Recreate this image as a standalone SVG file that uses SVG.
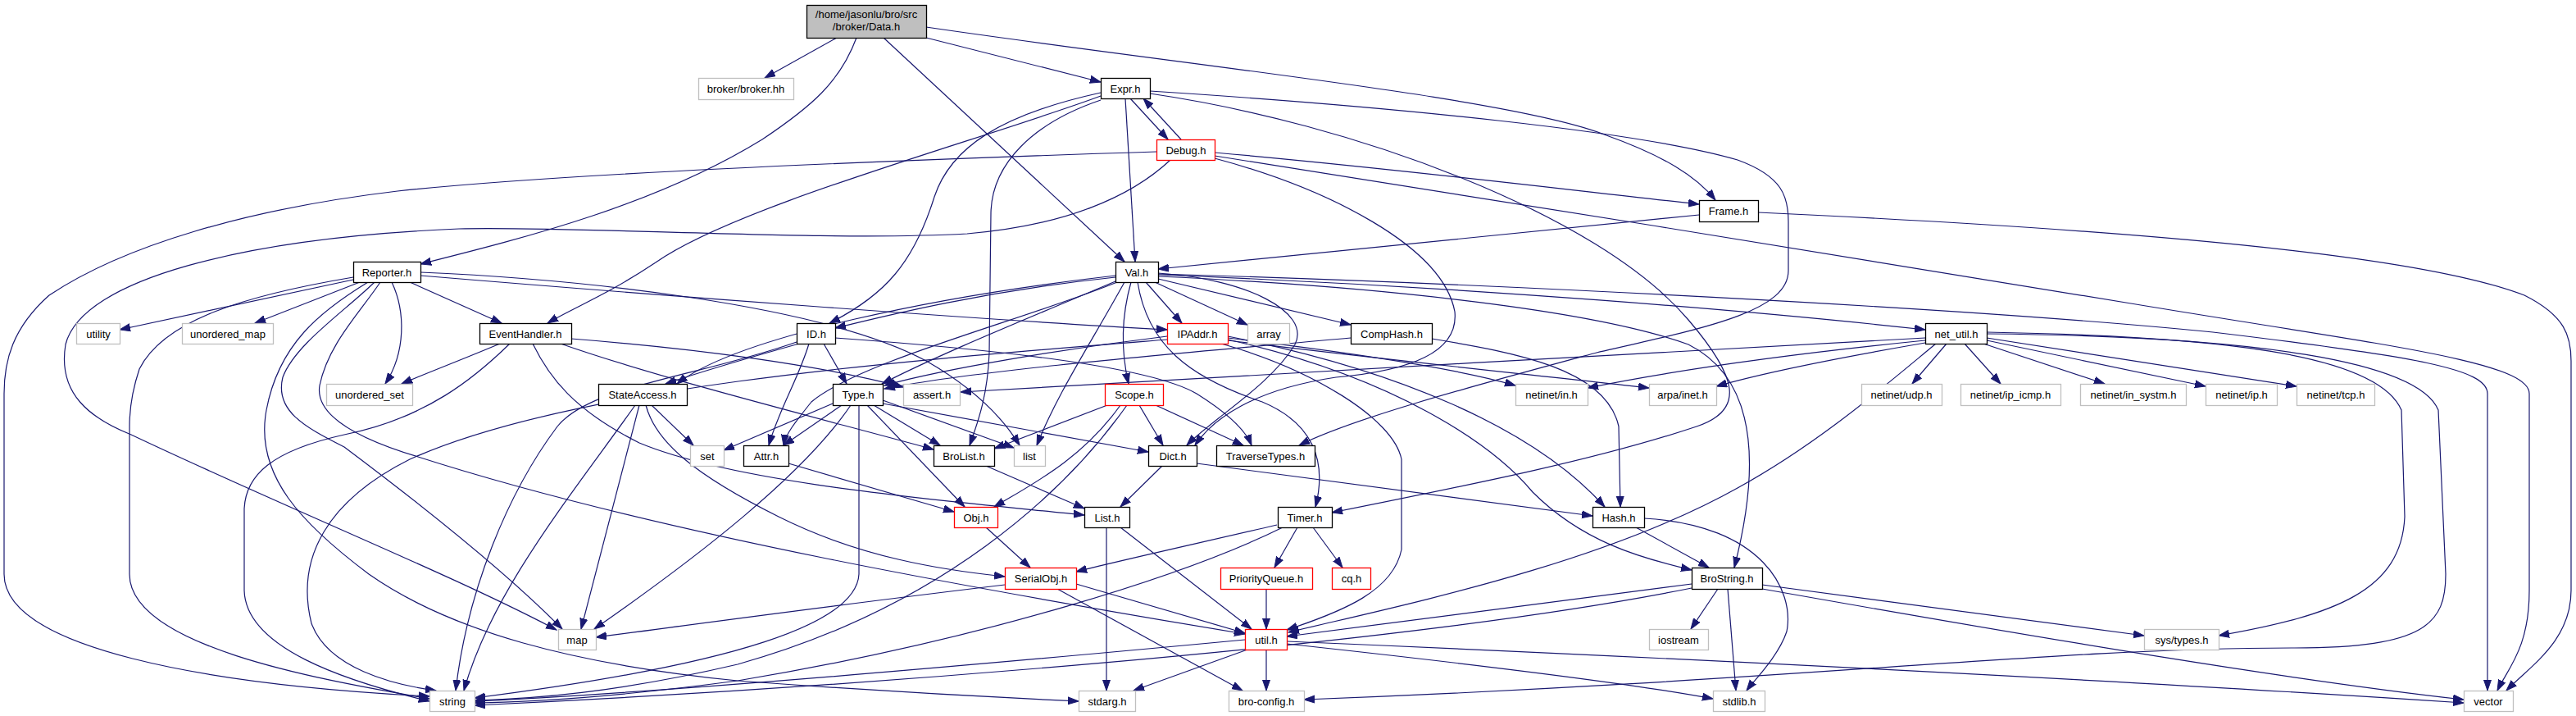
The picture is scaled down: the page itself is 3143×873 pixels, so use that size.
<svg xmlns="http://www.w3.org/2000/svg" width="3143" height="873" viewBox="0 0 3143 873">
<defs>
<marker id="ah" markerWidth="14" markerHeight="11" refX="13" refY="5" orient="auto" markerUnits="userSpaceOnUse"><path d="M0,0.5 L13,5 L0,9.5 z" fill="#191970" stroke="#191970" stroke-width="1"/></marker>
</defs>
<style>
.e{fill:none;stroke:#191970;stroke-width:1.2;marker-end:url(#ah)}
.n rect{fill:#fff;stroke:#000;stroke-width:1.3}
.g rect{stroke:#bfbfbf}
.r rect{stroke:#ff0000}
.root rect{fill:#bfbfbf;stroke:#000}
text{font-family:"Liberation Sans",Arial,Helvetica,sans-serif;font-size:13px;text-anchor:middle;fill:#000}
</style>
<rect x="0" y="0" width="3143" height="873" fill="#fff"/>
<g id="connectors">
<path class="e" d="M1021,46 L933,95"/>
<path class="e" d="M1045,46 C1025,100 990,130 930,170 C800,250 640,290 513,322"/>
<path class="e" d="M1078,46 L1372,319"/>
<path class="e" d="M1130,46 L1343,100"/>
<path class="e" d="M1130,33 C1450,80 1850,120 1960,165 C2030,190 2070,215 2093,244"/>
<path class="e" d="M1379,120 L1425,170"/>
<path class="e" d="M1441,170 L1395,120"/>
<path class="e" d="M1373,120 L1385,319"/>
<path class="e" d="M1343,113 C1220,140 1160,180 1140,240 C1115,320 1080,360 1012,394"/>
<path class="e" d="M1343,117 C1200,170 900,250 800,320 C740,360 700,375 668,394"/>
<path class="e" d="M1343,122 C1260,150 1210,200 1209,260 L1207,430 C1205,480 1195,510 1183,543"/>
<path class="e" d="M1403,111 C1700,130 2000,160 2120,195 C2175,215 2182,240 2182,270 L2182,330 C2182,380 2080,400 1948,430 C1800,470 1650,510 1585,543"/>
<path class="e" d="M1403,114 C1650,150 1950,260 2060,390 C2120,460 2130,500 2070,520 C1950,560 1800,590 1625,625"/>
<path class="e" d="M1411,185 C1100,195 700,210 485,233 C300,255 150,300 60,360 C15,400 5,440 5,480 L5,700 C5,790 250,835 524,849"/>
<path class="e" d="M1428,195 C1380,240 1300,275 1180,285 C1000,295 700,275 560,279 C300,290 100,340 80,420 C70,480 110,510 160,530 C350,620 550,700 679,768"/>
<path class="e" d="M1482,186 C1700,205 1900,230 2073,249"/>
<path class="e" d="M1482,190 C1800,240 2300,320 2600,370 C2900,420 3086,440 3086,480 L3086,720 C3086,790 3060,815 3047,842"/>
<path class="e" d="M1482,193 C1620,230 1760,300 1775,380 C1780,430 1720,452 1630,460 C1530,475 1480,510 1458,543"/>
<path class="e" d="M2073,262 L1413,328"/>
<path class="e" d="M2145,259 C2600,280 2950,310 3080,360 C3130,385 3137,410 3137,440 L3137,720 C3137,780 3090,810 3058,842"/>
<path class="e" d="M431,341 L146,402"/>
<path class="e" d="M439,344 L311,394"/>
<path class="e" d="M500,344 L612,394"/>
<path class="e" d="M478,344 C495,380 495,430 470,468"/>
<path class="e" d="M431,338 C300,360 200,390 170,450 C160,480 158,500 158,520 L158,700 C158,790 400,830 524,852"/>
<path class="e" d="M449,344 C390,380 340,420 325,500 C310,580 370,640 450,700 C550,770 700,810 900,830 C1100,845 1250,852 1316,855"/>
<path class="e" d="M457,344 C420,380 360,420 345,460 C335,500 370,520 420,545 C520,620 620,700 686,767"/>
<path class="e" d="M464,344 C440,380 400,420 390,470 C385,500 420,530 510,557 C800,650 1200,720 1519,773"/>
<path class="e" d="M513,332 C700,340 1000,370 1130,440 C1200,480 1230,520 1244,543"/>
<path class="e" d="M513,336 C800,360 1200,390 1424,402"/>
<path class="e" d="M610,419 C560,440 520,455 490,468"/>
<path class="e" d="M622,419 C580,460 520,510 420,530 C330,550 300,580 298,620 L298,720 C300,790 420,830 524,855"/>
<path class="e" d="M650,419 C670,460 700,500 780,540 C900,590 1150,610 1323,628"/>
<path class="e" d="M684,419 C800,460 1000,510 1139,548"/>
<path class="e" d="M697,413 C850,425 1000,445 1102,472"/>
<path class="e" d="M975,419 C900,440 850,455 812,468"/>
<path class="e" d="M972,417 C850,460 720,470 680,520 C620,600 570,720 556,842"/>
<path class="e" d="M1019,412 C1200,425 1400,445 1460,480 C1500,505 1520,525 1527,543"/>
<path class="e" d="M1005,419 L1033,468"/>
<path class="e" d="M987,419 C975,460 950,500 938,543"/>
<path class="e" d="M1361,338 C1200,355 1080,385 1019,400"/>
<path class="e" d="M1361,336 C1150,360 900,410 826,468"/>
<path class="e" d="M1361,343 C1250,390 1150,430 1076,468"/>
<path class="e" d="M1363,344 C1250,390 1050,440 990,490 C970,515 958,530 956,543"/>
<path class="e" d="M1372,344 C1330,420 1290,480 1265,543"/>
<path class="e" d="M1380,344 C1367,390 1368,430 1377,468"/>
<path class="e" d="M1388,344 C1400,420 1450,460 1540,490 C1600,515 1620,560 1605,618"/>
<path class="e" d="M1413,333 C1520,340 1600,380 1580,420 C1550,470 1480,510 1448,543"/>
<path class="e" d="M1398,344 L1442,394"/>
<path class="e" d="M1409,344 L1522,396"/>
<path class="e" d="M1413,340 L1648,396"/>
<path class="e" d="M1413,335 C1800,350 2150,380 2349,402"/>
<path class="e" d="M1413,337 C1700,350 1950,380 2060,420 C2140,460 2150,560 2116,692"/>
<path class="e" d="M1413,334 C1800,345 2400,375 2700,405 C2950,435 3035,450 3035,480 L3035,842"/>
<path class="e" d="M1424,410 C1300,425 1150,450 1079,470"/>
<path class="e" d="M1424,414 C1100,440 700,470 500,560 C400,610 360,680 380,760 C400,815 480,835 532,842"/>
<path class="e" d="M1490,419 C1600,450 1700,510 1710,560 L1710,670 C1700,720 1640,745 1570,768"/>
<path class="e" d="M1498,412 C1650,430 1780,450 1849,470"/>
<path class="e" d="M1498,415 C1700,440 1900,460 2012,473"/>
<path class="e" d="M1498,410 C1700,450 1870,520 1958,618"/>
<path class="e" d="M1498,414 C1700,460 1820,540 1870,600 C1930,660 2000,680 2064,695"/>
<path class="e" d="M1648,412 C1450,430 1200,450 1079,474"/>
<path class="e" d="M1747,413 C1850,430 1960,450 1975,520 L1977,618"/>
<path class="e" d="M2349,412 C2000,430 1500,460 1172,478"/>
<path class="e" d="M2349,415 C2200,430 2050,450 1937,473"/>
<path class="e" d="M2349,418 C2250,435 2150,455 2094,471"/>
<path class="e" d="M2375,419 L2333,468"/>
<path class="e" d="M2397,419 L2441,468"/>
<path class="e" d="M2420,419 L2568,468"/>
<path class="e" d="M2424,415 L2691,471"/>
<path class="e" d="M2424,412 L2802,471"/>
<path class="e" d="M2362,419 C2300,470 2220,540 2120,595 C1950,690 1700,740 1572,771"/>
<path class="e" d="M2424,405 C2700,410 2900,430 2930,500 L2934,630 C2930,720 2850,750 2707,775"/>
<path class="e" d="M2424,407 C2750,410 2950,440 2975,500 L2984,700 C2984,760 2960,790 2800,790 C2500,790 2200,830 1591,853"/>
<path class="e" d="M795,494 L846,543"/>
<path class="e" d="M788,494 C800,540 850,580 950,630 C1050,680 1150,695 1226,703"/>
<path class="e" d="M780,494 L709,767"/>
<path class="e" d="M775,494 C700,600 600,720 566,842"/>
<path class="e" d="M1016,492 L883,549"/>
<path class="e" d="M1027,494 L956,543"/>
<path class="e" d="M1038,494 C980,580 850,680 725,767"/>
<path class="e" d="M1048,494 L1048,700 C1045,760 900,810 579,851"/>
<path class="e" d="M1058,494 L1177,618"/>
<path class="e" d="M1066,494 L1147,543"/>
<path class="e" d="M1077,488 L1237,546"/>
<path class="e" d="M1077,492 L1401,551"/>
<path class="e" d="M1351,494 L1213,547"/>
<path class="e" d="M1367,494 C1320,560 1260,590 1213,618"/>
<path class="e" d="M1375,494 C1300,600 1150,740 900,810 C750,845 650,852 579,854"/>
<path class="e" d="M1390,494 L1419,543"/>
<path class="e" d="M1410,494 L1517,543"/>
<path class="e" d="M962,565 L1164,624"/>
<path class="e" d="M1203,568 L1323,620"/>
<path class="e" d="M1418,568 L1367,618"/>
<path class="e" d="M1460,565 C1650,590 1800,610 1943,629"/>
<path class="e" d="M1203,643 L1257,692"/>
<path class="e" d="M1350,643 L1350,842"/>
<path class="e" d="M1367,643 L1527,767"/>
<path class="e" d="M1558,640 C1450,665 1360,685 1313,697"/>
<path class="e" d="M1565,643 C1450,700 1200,780 900,830 C750,850 650,856 579,857"/>
<path class="e" d="M1583,643 L1555,692"/>
<path class="e" d="M1602,643 L1638,692"/>
<path class="e" d="M1996,643 L2085,692"/>
<path class="e" d="M2006,632 C2150,640 2190,720 2180,770 C2170,800 2140,830 2131,842"/>
<path class="e" d="M1226,713 C1000,740 820,765 727,777"/>
<path class="e" d="M1313,712 L1519,772"/>
<path class="e" d="M1290,718 L1516,842"/>
<path class="e" d="M1545,718 L1545,767"/>
<path class="e" d="M2064,712 L1570,776"/>
<path class="e" d="M2064,717 C1700,790 1000,840 579,860"/>
<path class="e" d="M2096,718 L2063,767"/>
<path class="e" d="M2108,718 L2118,842"/>
<path class="e" d="M2150,713 L2616,775"/>
<path class="e" d="M2150,718 C2500,780 2800,830 3006,853"/>
<path class="e" d="M1519,780 C1200,810 800,845 579,855"/>
<path class="e" d="M1522,792 L1383,842"/>
<path class="e" d="M1545,792 L1545,842"/>
<path class="e" d="M1570,785 C1800,810 2000,835 2090,852"/>
<path class="e" d="M1570,782 C2000,800 2600,830 3006,857"/>
</g>
<g id="node-data" class="n root"><rect x="984.5" y="6.5" width="146" height="40"/><text x="1057" y="22">/home/jasonlu/bro/src</text><text x="1057" y="37">/broker/Data.h</text></g>
<g id="node-broker" class="n g"><rect x="852.5" y="95.5" width="116" height="26"/><text x="910" y="113">broker/broker.hh</text></g>
<g id="node-expr" class="n"><rect x="1343.5" y="95.5" width="60" height="25"/><text x="1373" y="112.5">Expr.h</text></g>
<g id="node-debug" class="n r"><rect x="1411.5" y="170.5" width="71" height="25"/><text x="1447" y="187.5">Debug.h</text></g>
<g id="node-frame" class="n"><rect x="2073.5" y="244.5" width="72" height="26"/><text x="2109" y="262">Frame.h</text></g>
<g id="node-reporter" class="n"><rect x="431.5" y="319.5" width="82" height="25"/><text x="472" y="336.5">Reporter.h</text></g>
<g id="node-val" class="n"><rect x="1361.5" y="319.5" width="52" height="25"/><text x="1387" y="336.5">Val.h</text></g>
<g id="node-utility" class="n g"><rect x="93.5" y="394.5" width="53" height="25"/><text x="120" y="411.5">utility</text></g>
<g id="node-unordered_map" class="n g"><rect x="222.5" y="394.5" width="111" height="25"/><text x="278" y="411.5">unordered_map</text></g>
<g id="node-eventhandler" class="n"><rect x="585.5" y="394.5" width="112" height="25"/><text x="641" y="411.5">EventHandler.h</text></g>
<g id="node-id" class="n"><rect x="972.5" y="394.5" width="47" height="25"/><text x="996" y="411.5">ID.h</text></g>
<g id="node-ipaddr" class="n r"><rect x="1424.5" y="394.5" width="74" height="25"/><text x="1461" y="411.5">IPAddr.h</text></g>
<g id="node-array" class="n g"><rect x="1522.5" y="394.5" width="51" height="25"/><text x="1548" y="411.5">array</text></g>
<g id="node-comphash" class="n"><rect x="1648.5" y="394.5" width="99" height="25"/><text x="1698" y="411.5">CompHash.h</text></g>
<g id="node-net_util" class="n"><rect x="2349.5" y="394.5" width="75" height="25"/><text x="2387" y="411.5">net_util.h</text></g>
<g id="node-unordered_set" class="n g"><rect x="398.5" y="468.5" width="105" height="26"/><text x="451" y="486">unordered_set</text></g>
<g id="node-stateaccess" class="n"><rect x="730.5" y="468.5" width="108" height="26"/><text x="784" y="486">StateAccess.h</text></g>
<g id="node-type" class="n"><rect x="1016.5" y="468.5" width="61" height="26"/><text x="1047" y="486">Type.h</text></g>
<g id="node-assert" class="n g"><rect x="1102.5" y="468.5" width="69" height="26"/><text x="1137" y="486">assert.h</text></g>
<g id="node-scope" class="n r"><rect x="1348.5" y="468.5" width="71" height="26"/><text x="1384" y="486">Scope.h</text></g>
<g id="node-netinet_in" class="n g"><rect x="1849.5" y="468.5" width="88" height="26"/><text x="1893" y="486">netinet/in.h</text></g>
<g id="node-arpa_inet" class="n g"><rect x="2012.5" y="468.5" width="82" height="26"/><text x="2053" y="486">arpa/inet.h</text></g>
<g id="node-netinet_udp" class="n g"><rect x="2271.5" y="468.5" width="98" height="26"/><text x="2320" y="486">netinet/udp.h</text></g>
<g id="node-netinet_ip_icmp" class="n g"><rect x="2392.5" y="468.5" width="122" height="26"/><text x="2453" y="486">netinet/ip_icmp.h</text></g>
<g id="node-netinet_in_systm" class="n g"><rect x="2538.5" y="468.5" width="129" height="26"/><text x="2603" y="486">netinet/in_systm.h</text></g>
<g id="node-netinet_ip" class="n g"><rect x="2691.5" y="468.5" width="87" height="26"/><text x="2735" y="486">netinet/ip.h</text></g>
<g id="node-netinet_tcp" class="n g"><rect x="2802.5" y="468.5" width="95" height="26"/><text x="2850" y="486">netinet/tcp.h</text></g>
<g id="node-set" class="n g"><rect x="842.5" y="543.5" width="41" height="25"/><text x="863" y="560.5">set</text></g>
<g id="node-attr" class="n"><rect x="907.5" y="543.5" width="55" height="25"/><text x="935" y="560.5">Attr.h</text></g>
<g id="node-brolist" class="n"><rect x="1139.5" y="543.5" width="74" height="25"/><text x="1176" y="560.5">BroList.h</text></g>
<g id="node-list" class="n g"><rect x="1237.5" y="543.5" width="38" height="25"/><text x="1256" y="560.5">list</text></g>
<g id="node-dict" class="n"><rect x="1401.5" y="543.5" width="59" height="25"/><text x="1431" y="560.5">Dict.h</text></g>
<g id="node-traversetypes" class="n"><rect x="1484.5" y="543.5" width="120" height="25"/><text x="1544" y="560.5">TraverseTypes.h</text></g>
<g id="node-obj" class="n r"><rect x="1164.5" y="618.5" width="53" height="25"/><text x="1191" y="635.5">Obj.h</text></g>
<g id="node-listh" class="n"><rect x="1323.5" y="618.5" width="55" height="25"/><text x="1351" y="635.5">List.h</text></g>
<g id="node-timer" class="n"><rect x="1559.5" y="618.5" width="66" height="25"/><text x="1592" y="635.5">Timer.h</text></g>
<g id="node-hash" class="n"><rect x="1943.5" y="618.5" width="63" height="25"/><text x="1975" y="635.5">Hash.h</text></g>
<g id="node-serialobj" class="n r"><rect x="1226.5" y="692.5" width="87" height="26"/><text x="1270" y="710">SerialObj.h</text></g>
<g id="node-priorityqueue" class="n r"><rect x="1489.5" y="692.5" width="112" height="26"/><text x="1545" y="710">PriorityQueue.h</text></g>
<g id="node-cq" class="n r"><rect x="1625.5" y="692.5" width="47" height="26"/><text x="1649" y="710">cq.h</text></g>
<g id="node-brostring" class="n"><rect x="2064.5" y="692.5" width="86" height="26"/><text x="2107" y="710">BroString.h</text></g>
<g id="node-map" class="n g"><rect x="681.5" y="767.5" width="46" height="25"/><text x="704" y="784.5">map</text></g>
<g id="node-util" class="n r"><rect x="1519.5" y="767.5" width="51" height="25"/><text x="1545" y="784.5">util.h</text></g>
<g id="node-iostream" class="n g"><rect x="2012.5" y="767.5" width="72" height="25"/><text x="2048" y="784.5">iostream</text></g>
<g id="node-sys_types" class="n g"><rect x="2616.5" y="767.5" width="91" height="25"/><text x="2662" y="784.5">sys/types.h</text></g>
<g id="node-string" class="n g"><rect x="524.5" y="842.5" width="55" height="25"/><text x="552" y="859.5">string</text></g>
<g id="node-stdarg" class="n g"><rect x="1316.5" y="842.5" width="69" height="25"/><text x="1351" y="859.5">stdarg.h</text></g>
<g id="node-bro_config" class="n g"><rect x="1499.5" y="842.5" width="92" height="25"/><text x="1545" y="859.5">bro-config.h</text></g>
<g id="node-stdlib" class="n g"><rect x="2090.5" y="842.5" width="63" height="25"/><text x="2122" y="859.5">stdlib.h</text></g>
<g id="node-vector" class="n g"><rect x="3006.5" y="842.5" width="60" height="25"/><text x="3036" y="859.5">vector</text></g>
</svg>
